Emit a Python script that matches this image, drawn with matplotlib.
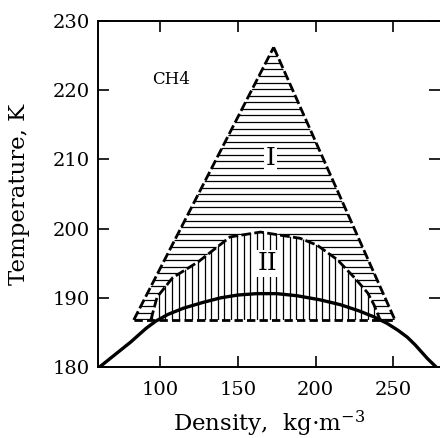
import numpy as np
import matplotlib
matplotlib.use("Agg")
import matplotlib.pyplot as plt
from matplotlib.patches import Polygon
from matplotlib.collections import LineCollection

plt.rcParams["font.family"] = ["DejaVu Serif"]
plt.rcParams["mathtext.fontset"] = "dejavuserif"

# coexistence curve (solid)
curve_rho = [61, 66, 71, 76, 81, 86, 91, 97, 105, 115, 127, 139, 150, 162, 175, 188,
             203, 216, 228, 238, 246, 253, 259, 264, 268, 272, 277.5]
curve_T = [180, 180.9, 181.8, 182.7, 183.6, 184.6, 185.6, 186.6, 187.6, 188.5, 189.3,
           190.0, 190.4, 190.6, 190.6, 190.3, 189.7, 189.0, 188.1, 187.2, 186.3, 185.3,
           184.3, 183.2, 182.2, 181.2, 180]

# region I triangle (left base, apex, right base)
tri_rho = [83, 173, 251]
tri_T = [186.8, 226.2, 186.8]

# region II dome (dashed upper boundary), ends on the base line
dome_rho = [94, 98, 108, 124.5, 145, 164.5, 190, 201, 214, 225, 233.5, 237.5, 241.5]
dome_T = [186.8, 190.1, 192.9, 195.2, 198.8, 199.5, 198.6, 197.6, 195.5, 192.9, 190.7, 189, 186.8]

base_T = 186.8

fig = plt.figure(figsize=(4.4, 4.38), dpi=100)
ax = fig.add_axes([98 / 440, 71 / 438, 342 / 440, 346 / 438])
ax.set_xlim(60, 280)
ax.set_ylim(180, 230)

# region polygons
dome_pts = list(zip(dome_rho, dome_T))
reg1 = [(tri_rho[0], tri_T[0]), (tri_rho[1], tri_T[1]), (tri_rho[2], tri_T[2])] + dome_pts[::-1]
p1 = Polygon(reg1, closed=True, facecolor="none", edgecolor="none")
p2 = Polygon(dome_pts, closed=True, facecolor="none", edgecolor="none")
ax.add_patch(p1)
ax.add_patch(p2)

# horizontal hatching in region I
hy = np.arange(base_T + 0.1, 227, 0.95)
hl = LineCollection([[(60, y), (280, y)] for y in hy], colors="black", linewidths=0.9)
ax.add_collection(hl)
hl.set_clip_path(p1)

# vertical hatching in region II
vx = np.arange(95, 242, 4.2)
vl = LineCollection([[(x, 180), (x, 205)] for x in vx], colors="black", linewidths=0.9)
ax.add_collection(vl)
vl.set_clip_path(p2)

# dashed boundaries
dash = dict(color="black", linewidth=2.0, linestyle=(0, (3.5, 1.2)))
ax.plot(tri_rho[:2], tri_T[:2], **dash)
ax.plot(tri_rho[1:], tri_T[1:], **dash)
ax.plot(dome_rho, dome_T, **dash)
ax.plot([tri_rho[0], tri_rho[2]], [base_T, base_T], color="black", linewidth=2.0,
        linestyle=(0, (3.0, 1.5)))

# coexistence curve
ax.plot(curve_rho, curve_T, color="black", linewidth=2.4, solid_capstyle="butt")

# labels
box = dict(facecolor="white", edgecolor="none", pad=1.5)
ax.text(171, 210.2, "I", fontsize=18, ha="center", va="center", bbox=box)
ax.text(169, 195.0, "II", fontsize=18, ha="center", va="center", bbox=box)
ax.text(95, 221.5, "CH4", fontsize=12, ha="left", va="center")

ax.set_xticks([100, 150, 200, 250])
ax.set_yticks([180, 190, 200, 210, 220, 230])
ax.tick_params(direction="in", length=8, width=1.2, labelsize=14, top=True, right=True)
ax.tick_params(axis="x", pad=10)
ax.tick_params(axis="y", pad=6)
for s in ["left", "bottom", "top"]:
    ax.spines[s].set_linewidth(1.4)
ax.spines["right"].set_visible(False)

ax.set_xlabel("Density,  kg$\\cdot$m$^{-3}$", fontsize=16.5, labelpad=7)
ax.set_ylabel("Temperature, K", fontsize=16.5, labelpad=16)

fig.savefig("out.png", dpi=100)
